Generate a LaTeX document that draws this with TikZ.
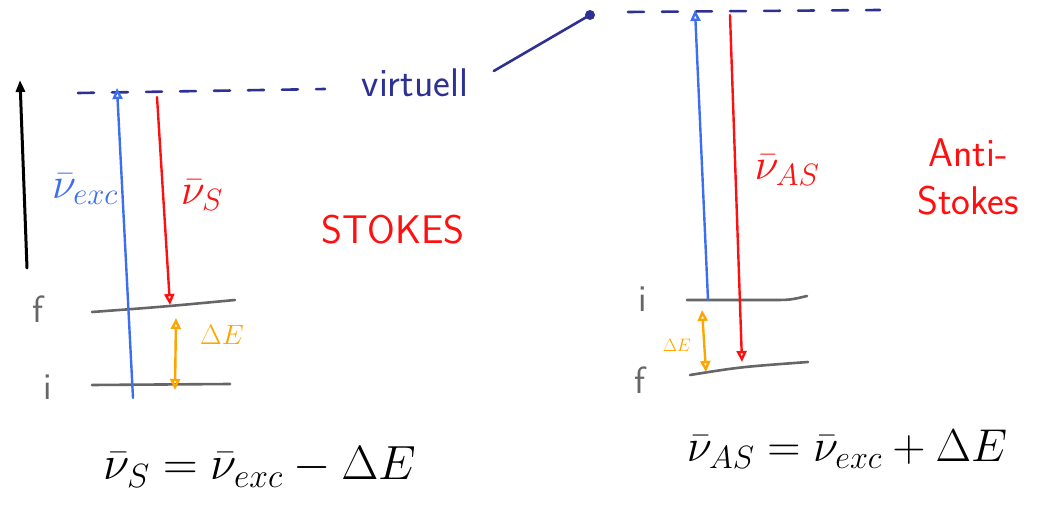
\RequirePackage{fix-cm}
\documentclass[tikz,border=0pt]{standalone}
\usepackage{amsmath,amssymb}
\usepackage{tikz}
\usetikzlibrary{arrows.meta}

\definecolor{navy}{HTML}{2E3192}
\definecolor{lblue}{HTML}{3C6EF0}
\definecolor{lred}{HTML}{FF1010}
\definecolor{lorange}{HTML}{FFA500}

\begin{document}
\begin{tikzpicture}[x=1pt,y=1pt,line cap=round,line join=round,
  >={Triangle[open,length=11pt,width=10pt]},
  lvl/.style={draw=black!60,line width=2.6pt},
  virt/.style={draw=navy,line width=2.6pt,dash pattern=on 16pt off 18pt},
  exc/.style={draw=lblue,line width=2.4pt,->},
  emit/.style={draw=lred,line width=2.4pt,->},
  gap/.style={draw=lorange,line width=2.4pt,<->},
  lbl/.style={font=\fontsize{38}{40}\selectfont\sffamily,text=black!60},
  big/.style={font=\fontsize{44}{48}\selectfont}]
  \useasboundingbox (0,0) rectangle (1041,517);

  % energy axis
  \draw[line width=3pt,-{Triangle[length=12pt,width=9pt]}] (27,249) -- (20,437);

  % levels
  \coordinate (Lf0) at (92,205);  \coordinate (Lf1) at (235,217);
  \coordinate (Li0) at (92,132);  \coordinate (Li1) at (230,133);
  \coordinate (Ri0) at (687,217); \coordinate (Ri1) at (807,221);
  \coordinate (Rf0) at (690,142); \coordinate (Rf1) at (808,155);
  \draw[lvl] (Lf0) .. controls (160,210) .. (Lf1);
  \draw[lvl] (Li0) -- (Li1);
  \draw[lvl] (Ri0) -- (770,217) .. controls (790,217) .. (Ri1);
  \draw[lvl] (Rf0) .. controls (740,150) .. (Rf1);
  \node[lbl] (fL) at (38,208) {f};
  \node[lbl] (iL) at (48,130) {i};
  \node[lbl] (iR) at (643,218) {i};
  \node[lbl] (fR) at (640,137) {f};

  % virtual levels
  \draw[virt] (78,424) -- (325,428);
  \draw[virt] (628,505) -- (880,507);
  \node[font=\fontsize{40}{44}\selectfont\sffamily,text=navy] (virt) at (415,434) {virtuell};
  \coordinate (vdot) at (590,502);
  \draw[navy,line width=2.6pt] (virt.east) ++(22,12) -- (vdot);
  \fill[navy] (vdot) circle (5pt);

  % Stokes
  \draw[exc] (133,119) -- (117,429);
  \draw[emit] (157,420) -- (170,212);
  \draw[gap] (176,199) -- (175,127);
  \node[big,text=lblue] (nuexc) at (85,328) {$\bar\nu_{exc}$};
  \node[big,text=lred] (nuS) at (202,322) {$\bar\nu_S$};
  \node[font=\fontsize{28}{30}\selectfont,text=lorange] (dEL) at (222,182) {$\Delta E$};
  \node[font=\fontsize{40}{44}\selectfont\sffamily,text=lred] (stokes) at (393,287) {STOKES};

  % anti-Stokes
  \draw[exc] (708,217) -- (695,507);
  \draw[emit] (730,502) -- (742,155);
  \draw[gap] (702,207) -- (706,145);
  \node[big,text=lred] (nuAS) at (787,347) {$\bar\nu_{AS}$};
  \node[font=\fontsize{18}{20}\selectfont,text=lorange] (dER) at (677,172) {$\Delta E$};
  \node[font=\fontsize{40}{48}\selectfont\sffamily,text=lred,align=center] (astokes) at (968,340) {Anti-\\Stokes};

  % relations
  \node[big,font=\fontsize{48}{52}\selectfont] (eqS) at (260,50) {$\bar\nu_S = \bar\nu_{exc} - \Delta E$};
  \node[big,font=\fontsize{46}{50}\selectfont] (eqAS) at (847,68) {$\bar\nu_{AS} = \bar\nu_{exc} + \Delta E$};
\end{tikzpicture}
\end{document}
